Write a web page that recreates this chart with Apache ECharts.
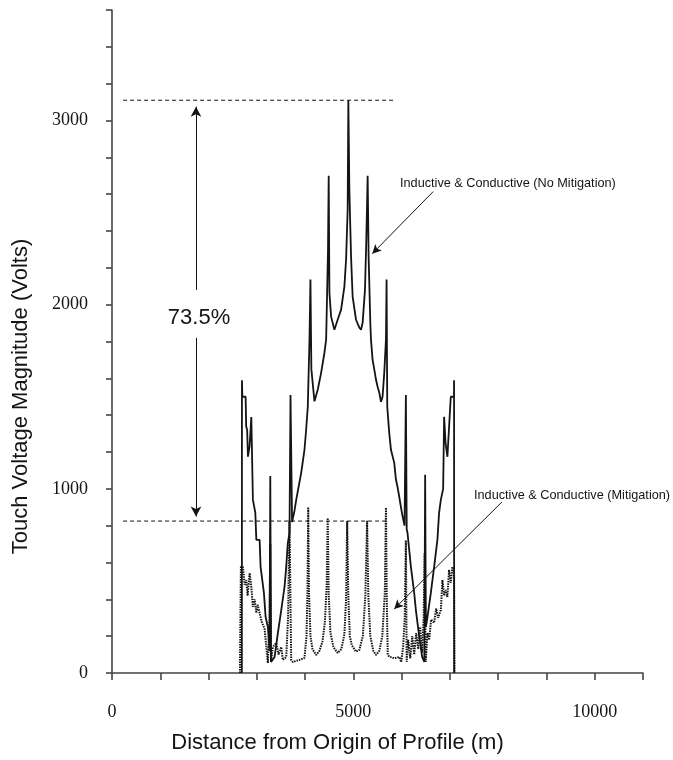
<!DOCTYPE html>
<html>
<head>
<meta charset="utf-8">
<script src="https://cdn.jsdelivr.net/npm/echarts@6/dist/echarts.min.js"></script>
<style>
  html, body { margin: 0; padding: 0; background: #fff; }
  #chart { width: 673px; height: 760px; }
</style>
</head>
<body>
<div id="chart"></div>
<script>
// touch voltage along the profile
const noMitigation = [
    [2690, 0], [2692, 1590], [2700, 1500], [2768, 1500], [2779, 1340], [2800, 1320], [2816, 1175],
    [2850, 1230], [2886, 1390], [2919, 940], [2969, 870], [2990, 723], [3058, 723], [3078, 576],
    [3147, 435], [3182, 304], [3229, 250], [3264, 120], [3279, 1070], [3295, 60], [3368, 87],
    [3436, 217], [3506, 342], [3574, 467], [3609, 576], [3642, 707], [3677, 760], [3698, 1510],
    [3730, 820], [3780, 880], [3816, 940], [3919, 1087], [3987, 1212], [4022, 1321], [4056, 1446],
    [4070, 1592], [4091, 1810], [4111, 2136], [4130, 1650], [4194, 1475], [4262, 1538], [4332, 1630],
    [4401, 1739], [4436, 1810], [4475, 2300], [4489, 2700], [4504, 2065], [4539, 1935], [4607, 1864],
    [4675, 1918], [4746, 1973], [4814, 2098], [4849, 2245], [4882, 2516], [4896, 3110], [4917, 2625],
    [4952, 2261], [4985, 2044], [5055, 1918], [5124, 1875], [5159, 1864], [5192, 1902], [5241, 2082],
    [5268, 2353], [5296, 2700], [5316, 2261], [5351, 1902], [5365, 1810], [5398, 1701], [5434, 1647],
    [5469, 1592], [5502, 1554], [5537, 1522], [5572, 1473], [5605, 1500], [5640, 1630], [5675, 1810],
    [5688, 2136], [5702, 1446], [5743, 1304], [5779, 1212], [5847, 1141], [5882, 1049], [5915, 1011],
    [5950, 957], [6012, 860], [6060, 800], [6088, 1510], [6105, 780], [6122, 760], [6192, 576],
    [6260, 435], [6295, 342], [6363, 200], [6425, 87], [6470, 60], [6487, 1076], [6502, 250],
    [6535, 304], [6605, 435], [6673, 576], [6741, 723], [6776, 870], [6812, 940], [6860, 1000],
    [6880, 1391], [6910, 1250], [6948, 1174], [6983, 1337], [7018, 1500], [7084, 1500], [7086, 1590],
    [7088, 0]
];

const mitigation = [
    [2650, 0], [2670, 576], [2712, 576], [2748, 480], [2782, 505], [2810, 420], [2851, 543],
    [2886, 467], [2919, 359], [2954, 400], [2990, 326], [3016, 370], [3058, 326], [3099, 280],
    [3126, 288], [3161, 240], [3195, 250], [3229, 54], [3264, 300], [3279, 700], [3296, 60],
    [3331, 141], [3402, 163], [3450, 100], [3506, 141], [3540, 71], [3609, 87], [3647, 300],
    [3677, 830], [3712, 71], [3746, 60], [3884, 71], [3987, 82], [4029, 200], [4050, 450],
    [4065, 900], [4080, 450], [4111, 200], [4153, 130], [4229, 98], [4297, 120], [4359, 170],
    [4411, 280], [4448, 480], [4469, 842], [4489, 430], [4525, 220], [4587, 140], [4675, 109],
    [4752, 130], [4814, 210], [4849, 400], [4872, 825], [4895, 420], [4927, 200], [4969, 150],
    [5055, 116], [5124, 125], [5196, 200], [5248, 420], [5285, 826], [5310, 420], [5351, 200],
    [5413, 120], [5469, 98], [5537, 120], [5599, 200], [5651, 430], [5675, 898], [5692, 400],
    [5712, 100], [5743, 89], [5847, 80], [5950, 87], [5992, 60], [6033, 150], [6064, 300],
    [6088, 720], [6105, 60], [6136, 180], [6178, 80], [6219, 200], [6260, 100], [6301, 217],
    [6343, 130], [6384, 250], [6425, 110], [6456, 300], [6477, 650], [6498, 60], [6535, 217],
    [6570, 180], [6611, 290], [6673, 272], [6715, 350], [6756, 300], [6812, 342], [6845, 505],
    [6880, 420], [6914, 451], [6948, 413], [6983, 560], [7018, 489], [7052, 576], [7086, 540],
    [7096, 0]
];

// dashed reference levels (peak without / with mitigation)
const peakLevel = [[230, 3110], [5850, 3110]];
const mitigatedLevel = [[230, 825], [5680, 825]];

// arrows: [from, to]
const reductionArrows = [
    [[1740, 2080], [1740, 3075]],
    [[1740, 1820], [1740, 850]]
];
const labelArrows = [
    [[6653, 2614], [5392, 2277]],
    [[8078, 929], [5847, 348]]
];

const xLabels = [0, 5000, 10000];
const yLabels = [0, 1000, 2000, 3000];

const ink = '#141414';
const axisColor = '#444';

const chart = echarts.init(document.getElementById('chart'));

const arrowLines = reductionArrows.map(a => [
    { coord: a[0], symbol: 'none' },
    { coord: a[1], symbol: 'arrow', symbolSize: [8, 10] }
]).concat(labelArrows.map(a => [
    { coord: a[0], symbol: 'none' },
    { coord: a[1], symbol: 'arrow', symbolSize: [7, 9] }
]));

chart.setOption({
    animation: false,
    backgroundColor: '#fff',
    grid: { left: 112, right: 30, top: 10, bottom: 87, containLabel: false },
    xAxis: {
        type: 'value', min: 0, max: 11000, interval: 1000,
        name: 'Distance from Origin of Profile (m)',
        nameLocation: 'middle', nameGap: 59,
        nameTextStyle: { fontFamily: 'Liberation Sans', fontSize: 22, color: ink, padding: [0, 80, 0, 0] },
        axisLine: { lineStyle: { color: axisColor, width: 1.6 } },
        axisTick: { length: 7, lineStyle: { color: axisColor, width: 1.6 } },
        axisLabel: {
            margin: 30, fontFamily: 'Liberation Serif', fontSize: 18, color: ink,
            formatter: v => xLabels.includes(v) ? String(v) : ''
        },
        splitLine: { show: false }
    },
    yAxis: {
        type: 'value', min: 0, max: 3600, interval: 200,
        name: 'Touch Voltage Magnitude (Volts)',
        nameLocation: 'middle', nameGap: 80,
        nameTextStyle: { fontFamily: 'Liberation Sans', fontSize: 22, color: ink, padding: [0, 110, 0, 0] },
        axisLine: { lineStyle: { color: axisColor, width: 1.6 } },
        axisTick: { length: 6, lineStyle: { color: axisColor, width: 1.6 } },
        axisLabel: {
            margin: 24, fontFamily: 'Liberation Serif', fontSize: 18, color: ink,
            padding: [0, 0, 10, 0],
            formatter: v => yLabels.includes(v) ? String(v) : ''
        },
        splitLine: { show: false }
    },
    series: [
        {
            name: 'Inductive & Conductive (No Mitigation)', type: 'line', data: noMitigation,
            showSymbol: false, lineStyle: { color: ink, width: 1.8 }
        },
        {
            name: 'Inductive & Conductive (Mitigation)', type: 'line', data: mitigation,
            showSymbol: false, lineStyle: { color: ink, width: 2, type: [1.5, 1] }
        },
        {
            type: 'line', data: peakLevel, showSymbol: false,
            lineStyle: { color: ink, width: 1, type: [4, 3] },
            markLine: {
                silent: true, label: { show: false },
                lineStyle: { color: ink, width: 1, type: 'solid' },
                data: arrowLines
            }
        },
        {
            type: 'line', data: mitigatedLevel, showSymbol: false,
            lineStyle: { color: ink, width: 1, type: [4, 3] }
        }
    ],
    graphic: [
        { type: 'text', x: 199, y: 318, style: { text: '73.5%', fontFamily: 'Liberation Sans', fontSize: 22, fill: ink, align: 'center', verticalAlign: 'middle' } },
        { type: 'text', x: 400, y: 183, style: { text: 'Inductive & Conductive (No Mitigation)', fontFamily: 'Liberation Sans', fontSize: 12.7, fill: ink, align: 'left', verticalAlign: 'middle' } },
        { type: 'text', x: 474, y: 495, style: { text: 'Inductive & Conductive (Mitigation)', fontFamily: 'Liberation Sans', fontSize: 12.7, fill: ink, align: 'left', verticalAlign: 'middle' } }
    ]
});
</script>
</body>
</html>
